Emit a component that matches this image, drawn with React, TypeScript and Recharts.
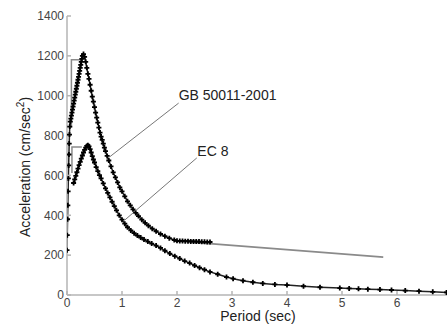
import React from 'react';
import { LineChart, Line, XAxis, YAxis, ReferenceLine, ReferenceDot } from 'recharts';

// period (sec) and acceleration (cm/sec^2)
const gbPeriod = [0, 0.005, 0.01, 0.015, 0.02, 0.025, 0.03, 0.035, 0.04, 0.045, 0.05, 0.06, 0.07, 0.08, 0.09, 0.1, 0.11, 0.12, 0.13, 0.14, 0.15, 0.16, 0.17, 0.18, 0.19, 0.2, 0.21, 0.22, 0.23, 0.24, 0.25, 0.26, 0.27, 0.28, 0.3, 0.32, 0.34, 0.36, 0.38, 0.4, 0.42, 0.44, 0.46, 0.48, 0.5, 0.52, 0.54, 0.56, 0.58, 0.6, 0.62, 0.64, 0.66, 0.68, 0.7, 0.73, 0.76, 0.8, 0.84, 0.88, 0.92, 0.96, 1.0, 1.05, 1.1, 1.15, 1.2, 1.25, 1.3, 1.36, 1.42, 1.48, 1.55, 1.62, 1.7, 1.78, 1.86, 1.95, 2.0, 2.05, 2.1, 2.15, 2.2, 2.25, 2.3, 2.35, 2.4, 2.45, 2.5, 2.55, 2.6];
const gbAccel = [225, 300, 380, 450, 520, 585, 650, 705, 760, 805, 845, 870, 885, 900, 915, 930, 945, 960, 975, 990, 1005, 1020, 1035, 1050, 1065, 1080, 1095, 1110, 1125, 1140, 1155, 1170, 1185, 1200, 1209, 1195, 1170, 1140, 1110, 1085, 1055, 1025, 995, 970, 943, 915, 890, 865, 840, 815, 795, 778, 760, 740, 722, 698, 675, 645, 615, 590, 565, 540, 520, 495, 470, 450, 430, 412, 396, 378, 362, 348, 333, 320, 306, 295, 285, 276, 272, 271, 271, 270, 270, 269, 269, 268, 268, 267, 267, 266, 266];

const ecPeriod = [0.12, 0.14, 0.16, 0.18, 0.2, 0.22, 0.24, 0.26, 0.28, 0.3, 0.32, 0.34, 0.36, 0.38, 0.4, 0.42, 0.44, 0.46, 0.48, 0.5, 0.53, 0.56, 0.59, 0.62, 0.66, 0.7, 0.74, 0.78, 0.82, 0.86, 0.9, 0.95, 1.0, 1.05, 1.1, 1.16, 1.22, 1.28, 1.34, 1.4, 1.47, 1.54, 1.62, 1.7, 1.78, 1.87, 1.96, 2.05, 2.14, 2.23, 2.32, 2.41, 2.5, 2.6, 2.74, 2.9, 3.02, 3.2, 3.38, 3.56, 3.78, 4.0, 4.3, 4.6, 4.96, 5.13, 5.3, 5.47, 5.69, 5.9, 6.15, 6.4, 6.65, 6.9];
const ecAccel = [562, 580, 598, 616, 634, 652, 668, 684, 700, 715, 728, 740, 748, 752, 746, 732, 715, 697, 680, 665, 642, 622, 602, 585, 560, 535, 512, 490, 468, 446, 425, 400, 378, 358, 340, 324, 310, 298, 288, 278, 268, 258, 248, 236, 222, 208, 195, 183, 170, 160, 148, 137, 127, 116, 104, 90, 82, 72, 64, 58, 53, 50, 44, 39, 35, 33, 31, 29, 27, 25, 22, 19, 16, 13];

// code spectra (grey lines)
const gbCodePeriod = [0.08, 0.08, 0.27];
const gbCodeAccel = [840, 1180, 1180];
const gbTailPeriod = [1.95, 5.75];
const gbTailAccel = [272, 190];
const ecCodePeriod = [0.09, 0.09, 0.27];
const ecCodeAccel = [612, 743, 743];

const xTicks = [0, 1, 2, 3, 4, 5, 6];
const xTicksTop = [0, 1, 2, 3, 4, 5, 6, 7];
const yTicks = [0, 200, 400, 600, 800, 1000, 1200, 1400];

const toRows = (ts: number[], as: number[]) => ts.map((t, i) => ({ t, a: as[i] }));

const gbData = toRows(gbPeriod, gbAccel);
const ecData = toRows(ecPeriod, ecAccel);
const gbCode = toRows(gbCodePeriod, gbCodeAccel);
const gbTail = toRows(gbTailPeriod, gbTailAccel);
const ecCode = toRows(ecCodePeriod, ecCodeAccel);

const PlusDot = (props: any) => {
  const { cx, cy, index } = props;
  if (cx == null || cy == null) return <g key={index} />;
  return (
    <path
      key={index}
      d={`M${cx - 2.5},${cy}h5M${cx},${cy - 2.5}v5`}
      stroke="#000"
      strokeWidth={1.8}
    />
  );
};

const font = 'Liberation Sans, Arial, sans-serif';
const axisGrey = '#b4b4b4';
const tickStyle = { fontSize: 12, fill: '#444', fontFamily: font };

export default function App() {
  return (
    <div style={{ position: 'absolute', left: 0, top: 0, width: 447, height: 325, overflow: 'hidden', background: '#fff' }}>
      <LineChart width={452} height={325} margin={{ top: 16, right: 0, bottom: 0, left: 0 }}>
        <XAxis
          xAxisId="b"
          dataKey="t"
          type="number"
          domain={[0, 7]}
          ticks={xTicks}
          height={30}
          tick={tickStyle}
          tickSize={-4}
          tickMargin={7}
          stroke={axisGrey}
          strokeWidth={1.5}
          allowDataOverflow
        />
        <XAxis
          xAxisId="t"
          orientation="top"
          dataKey="t"
          type="number"
          domain={[0, 7]}
          ticks={xTicksTop}
          height={0}
          tickSize={-4}
          tickFormatter={() => ''}
          stroke={axisGrey}
          strokeWidth={1.5}
        />
        <YAxis
          yAxisId="l"
          type="number"
          domain={[0, 1400]}
          ticks={yTicks}
          width={67}
          tick={tickStyle}
          tickSize={-4}
          tickMargin={7}
          stroke={axisGrey}
          strokeWidth={1.5}
        />
        <YAxis
          yAxisId="r"
          orientation="right"
          type="number"
          domain={[0, 1400]}
          ticks={yTicks}
          width={0}
          tickSize={-4}
          tickFormatter={() => ''}
          stroke={axisGrey}
          strokeWidth={1.5}
        />
        <Line xAxisId="b" yAxisId="l" data={gbCode} dataKey="a" stroke="#8a8a8a" strokeWidth={1.5} dot={false} isAnimationActive={false} />
        <Line xAxisId="b" yAxisId="l" data={ecCode} dataKey="a" stroke="#8a8a8a" strokeWidth={1.5} dot={false} isAnimationActive={false} />
        <Line xAxisId="b" yAxisId="l" data={gbTail} dataKey="a" stroke="#8a8a8a" strokeWidth={1.8} dot={false} isAnimationActive={false} />
        <Line xAxisId="b" yAxisId="l" data={gbData} dataKey="a" stroke="#222" strokeWidth={1.5} dot={PlusDot} isAnimationActive={false} />
        <Line xAxisId="b" yAxisId="l" data={ecData} dataKey="a" stroke="#222" strokeWidth={1.5} dot={PlusDot} isAnimationActive={false} />
        <ReferenceLine xAxisId="b" yAxisId="l" segment={[{ x: 2.03, y: 963 }, { x: 0.77, y: 692 }]} stroke="#777" strokeWidth={1} />
        <ReferenceLine xAxisId="b" yAxisId="l" segment={[{ x: 2.36, y: 688 }, { x: 1.05, y: 376 }]} stroke="#777" strokeWidth={1} />
        <ReferenceDot
          xAxisId="b"
          yAxisId="l"
          x={2.03}
          y={1005}
          r={0}
          label={{ value: 'GB 50011-2001', position: 'right', offset: 0, fontSize: 14, fill: '#222', fontFamily: font }}
        />
        <ReferenceDot
          xAxisId="b"
          yAxisId="l"
          x={2.37}
          y={722}
          r={0}
          label={{ value: 'EC 8', position: 'right', offset: 0, fontSize: 14, fill: '#222', fontFamily: font }}
        />
      </LineChart>
      <div style={{ position: 'absolute', left: 0, top: 0, pointerEvents: 'none' }}>
        <svg width={447} height={325}>
          <text
            x={0}
            y={0}
            transform="translate(30,167) rotate(-90)"
            textAnchor="middle"
            fontSize={14}
            fill="#222"
            fontFamily={font}
          >
            Acceleration (cm/sec<tspan dy={-6} fontSize={10}>2</tspan><tspan dy={6}>)</tspan>
          </text>
          <text x={258} y={321} textAnchor="middle" fontSize={14} fill="#222" fontFamily={font}>
            Period (sec)
          </text>
        </svg>
      </div>
    </div>
  );
}
